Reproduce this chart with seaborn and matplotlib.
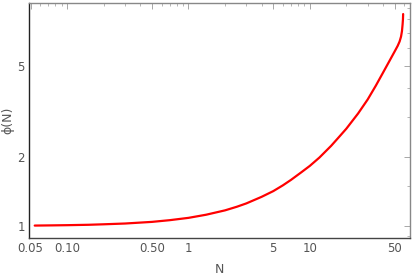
import matplotlib
matplotlib.use("Agg")
import matplotlib.pyplot as plt
import matplotlib.ticker as mticker
import seaborn as sns
import pandas as pd

# values (log-log)
n_vals = [0.054, 0.075, 0.1, 0.15, 0.2, 0.3, 0.5, 0.7, 1, 1.4, 2, 2.5, 3,
          4, 5, 6, 7, 8.5, 10, 12, 15, 17.5, 20, 25, 30, 35, 40, 45, 50,
          53, 55, 56.5, 57.5, 58.2, 58.6, 58.8]
phi_vals = [1.004, 1.006, 1.008, 1.012, 1.017, 1.025, 1.042, 1.06, 1.085,
            1.12, 1.17, 1.213, 1.255, 1.34, 1.42, 1.505, 1.59, 1.715, 1.83,
            1.99, 2.24, 2.455, 2.66, 3.1, 3.57, 4.1, 4.66, 5.22, 5.78,
            6.12, 6.4, 6.72, 7.1, 7.6, 8.0, 8.43]
x_major = [0.05, 0.1, 0.5, 1, 5, 10, 50]
x_labels = ["0.05", "0.10", "0.50", "1", "5", "10", "50"]
y_major = [1, 2, 5]
y_labels = ["1", "2", "5"]
x_minor = [0.06, 0.07, 0.08, 0.09, 0.2, 0.3, 0.4, 0.6, 0.7, 0.8, 0.9,
           2, 3, 4, 6, 7, 8, 9, 20, 30, 40, 60]
y_minor = [0.9, 1.5, 3, 4, 6, 7, 8, 9]

df = pd.DataFrame({"N": n_vals, "phi": phi_vals})

sns.set_style("white")
plt.rcParams["font.family"] = ["DejaVu Sans"]

fig = plt.figure(figsize=(4.15, 2.77), dpi=100)
ax = fig.add_axes([0.070, 0.142, 0.918, 0.846])
sns.lineplot(data=df, x="N", y="phi", ax=ax, color="#ff0000", lw=1.6,
             sort=False, estimator=None)
ax.set_xscale("log")
ax.set_yscale("log")
ax.set_xlim(0.0485, 67)
ax.set_ylim(0.889, 9.39)

ax.xaxis.set_major_locator(mticker.FixedLocator(x_major))
ax.xaxis.set_major_formatter(mticker.FixedFormatter(x_labels))
ax.xaxis.set_minor_locator(mticker.FixedLocator(x_minor))
ax.xaxis.set_minor_formatter(mticker.NullFormatter())
ax.yaxis.set_major_locator(mticker.FixedLocator(y_major))
ax.yaxis.set_major_formatter(mticker.FixedFormatter(y_labels))
ax.yaxis.set_minor_locator(mticker.FixedLocator(y_minor))
ax.yaxis.set_minor_formatter(mticker.NullFormatter())

ax.tick_params(which="both", direction="in", top=True, right=True,
               color="#999999", labelcolor="#555555", labelsize=8.5)
ax.tick_params(which="major", length=4, width=0.6, pad=3)
ax.tick_params(which="minor", length=2, width=0.5)

for side, col in [("left", "#222222"), ("bottom", "#444444"),
                  ("top", "#888888"), ("right", "#888888")]:
    ax.spines[side].set_color(col)
    ax.spines[side].set_linewidth(1.0)

ax.set_xlabel("N", color="#555555", fontsize=9, labelpad=6)
ax.set_ylabel("ϕ(N)", color="#555555", fontsize=9, labelpad=2)

fig.savefig("out.png", dpi=100)
